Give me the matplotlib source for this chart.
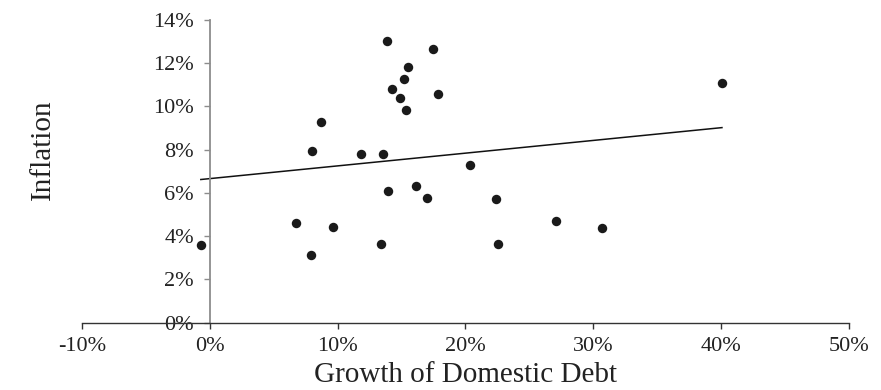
import numpy as np
import matplotlib.pyplot as plt
from matplotlib.ticker import FuncFormatter

# growth of domestic debt (%) and inflation (%) per observation
debt_growth = [-0.72, 6.77, 7.92, 8.00, 8.67, 9.61, 11.85, 13.55, 13.39, 13.86,
               13.94, 14.22, 14.90, 15.21, 15.50, 15.36, 16.15, 17.00, 17.45, 17.84,
               20.37, 22.42, 22.58, 27.06, 30.68, 40.08]
inflation = [3.59, 4.59, 3.13, 7.94, 9.28, 4.43, 7.81, 7.82, 3.63, 13.03,
             6.07, 10.79, 10.41, 11.28, 11.81, 9.84, 6.33, 5.77, 12.66, 10.59,
             7.30, 5.70, 3.63, 4.70, 4.39, 11.10]

x_ticks = [-10, 0, 10, 20, 30, 40, 50]
y_ticks = [0, 2, 4, 6, 8, 10, 12, 14]

plt.rcParams["font.family"] = "Liberation Serif"

fig = plt.figure(figsize=(8.81, 3.9), dpi=100)
ax = fig.add_axes([0.0934, 0.1726, 0.8699, 0.7761])

x = np.array(debt_growth)
y = np.array(inflation)
ax.plot(x, y, "o", color="#1a1a1a", markersize=6.8, markeredgewidth=0)

# linear trend over the observed range
slope, intercept = np.polyfit(x, y, 1)
xs = np.array([x.min(), x.max()])
ax.plot(xs, intercept + slope * xs, color="#111111", linewidth=1.1)

ax.set_xlim(-10, 50)
ax.set_ylim(0, 14)
ax.set_xticks(x_ticks)
ax.set_yticks(y_ticks)
pct = FuncFormatter(lambda v, _: f"{v:.0f}%")
ax.xaxis.set_major_formatter(pct)
ax.yaxis.set_major_formatter(pct)

ax.spines["top"].set_visible(False)
ax.spines["right"].set_visible(False)
ax.spines["left"].set_position(("data", 0))
ax.spines["left"].set_color("#8c8c8c")
ax.spines["left"].set_linewidth(1.3)
ax.spines["bottom"].set_color("#333333")
ax.spines["bottom"].set_linewidth(1.0)

ax.tick_params(axis="x", direction="out", length=4, width=1.0, color="#333333",
               labelsize=16, pad=6, labelcolor="#222222")
ax.tick_params(axis="y", direction="out", length=4, width=1.0, color="#8c8c8c",
               labelsize=16, pad=7.5, labelcolor="#222222")

ax.set_xlabel("Growth of Domestic Debt", fontsize=21, color="#222222", labelpad=4.5)
ax.set_ylabel("Inflation", fontsize=21, color="#222222")
ax.yaxis.set_label_coords(-0.034, 0.571)

fig.savefig("out.png", dpi=100)
